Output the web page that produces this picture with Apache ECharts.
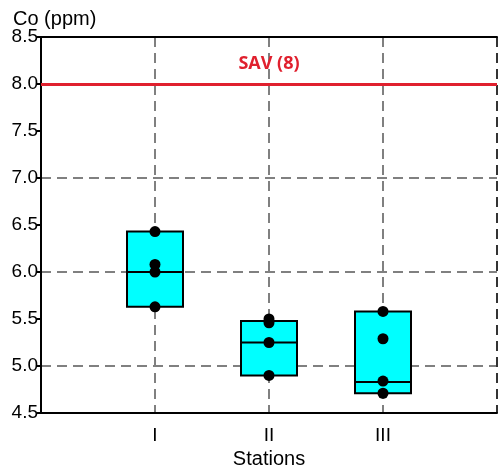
<!DOCTYPE html>
<html>
<head>
<meta charset="utf-8">
<script src="https://cdn.jsdelivr.net/npm/echarts@6/dist/echarts.min.js"></script>
<style>
  html, body { margin: 0; padding: 0; background: #fff; }
  #chart { width: 504px; height: 469px; }
</style>
</head>
<body>
<div id="chart"></div>
<script>
// categories (blank slots at both ends pad the axis)
var stations = ['', 'I', 'II', 'III', ''];
// box edges and median per station
var boxLow = [5.63, 4.90, 4.71];
var boxMed = [6.00, 5.25, 4.83];
var boxHigh = [6.43, 5.48, 5.58];
// measured points per station
var pointsI = [6.43, 6.08, 6.00, 5.63];
var pointsII = [5.50, 5.46, 5.25, 4.90];
var pointsIII = [5.58, 5.29, 4.84, 4.71];
var sav = 8;
var yTicks = [4.5, 8.5, 0.5];

// [x, min, Q1, median, Q3, max]
var boxData = boxLow.map(function (lo, i) {
  return [i + 1, lo, lo, boxMed[i], boxHigh[i], boxHigh[i]];
});
var dots = [];
[pointsI, pointsII, pointsIII].forEach(function (arr, i) {
  arr.forEach(function (v) { dots.push([i + 1, v]); });
});

var font = 'Liberation Sans, Arial, sans-serif';
var myChart = echarts.init(document.getElementById('chart'));
var options = {
  animation: false,
  title: {
    text: 'Co (ppm)', left: 8, top: 4,
    textStyle: { fontFamily: font, fontSize: 20, fontWeight: 'normal', color: '#000' }
  },
  grid: { left: 41, right: 7, top: 37, bottom: 56, outerBoundsMode: 'none' },
  xAxis: [{
    type: 'category', data: stations, boundaryGap: false,
    name: 'Stations', nameLocation: 'middle', nameGap: 35,
    nameTextStyle: { fontFamily: font, fontSize: 20, color: '#000' },
    axisLine: { lineStyle: { color: '#000', width: 2 } },
    axisTick: { show: false },
    axisLabel: { fontFamily: font, fontSize: 19, color: '#000', margin: 13, interval: 0 },
    splitLine: { show: true, lineStyle: { type: [10, 6], width: 2, color: ['transparent', '#808080', '#808080', '#808080', '#333'] } }
  }, {
    type: 'category', data: stations, boundaryGap: false, position: 'top',
    axisLine: { lineStyle: { color: '#000', width: 2 } },
    axisTick: { show: false }, axisLabel: { show: false }, splitLine: { show: false }
  }],
  yAxis: {
    type: 'value', min: yTicks[0], max: yTicks[1], interval: yTicks[2],
    axisLine: { show: true, lineStyle: { color: '#000', width: 2 } },
    axisTick: { show: true, length: 4, lineStyle: { color: '#000', width: 2 } },
    axisLabel: {
      fontFamily: font, fontSize: 19, color: '#000', margin: 3,
      formatter: function (v) { return v.toFixed(1); }
    },
    splitLine: { show: true, lineStyle: { type: [10, 6], width: 2, color: ['transparent', '#808080'] } }
  },
  series: [{
    type: 'boxplot',
    data: boxData,
    dimensions: ['x', 'min', 'Q1', 'median', 'Q3', 'max'],
    encode: { x: 0, y: [1, 2, 3, 4, 5] },
    boxWidth: [56, 56],
    itemStyle: { color: '#00ffff', borderColor: '#000', borderWidth: 2 },
    markLine: {
      silent: true, symbol: 'none',
      lineStyle: { color: '#e0202e', width: 3, type: 'solid' },
      label: {
        show: true, position: 'insideMiddleTop', formatter: 'SAV (8)', distance: 11,
        color: '#e0202e', fontFamily: 'Open Sans, sans-serif', fontWeight: 'bold', fontSize: 18
      },
      data: [{ yAxis: sav }]
    }
  }, {
    type: 'scatter',
    data: dots,
    symbolSize: 11,
    itemStyle: { color: '#000', opacity: 1 },
    z: 5
  }]
};
myChart.setOption(options);
window.addEventListener('resize', function () { myChart.resize(); });
</script>
</body>
</html>
